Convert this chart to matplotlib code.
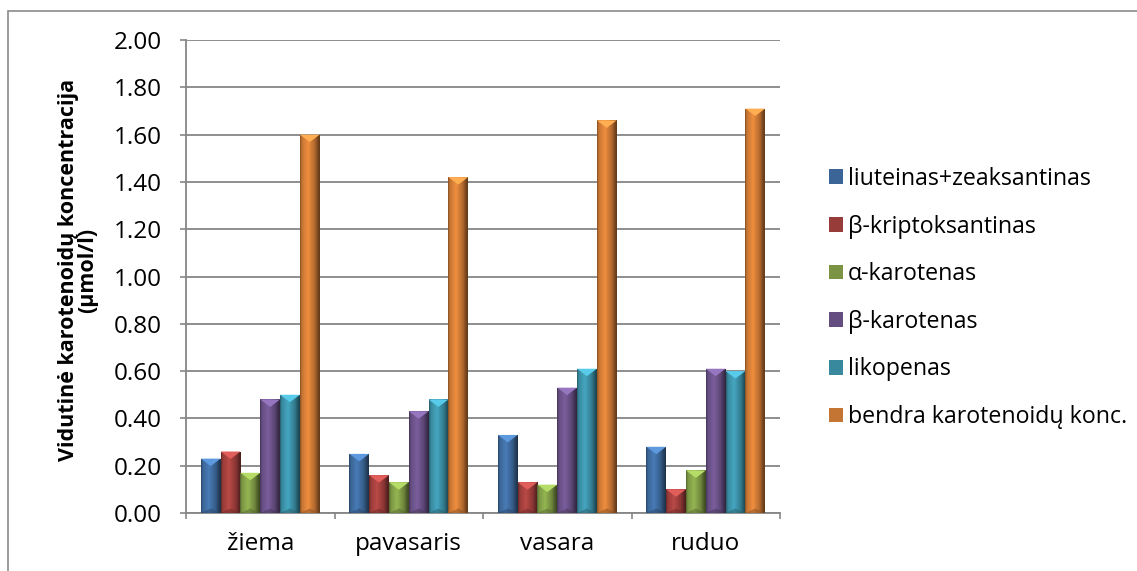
import numpy as np
import matplotlib
matplotlib.use("Agg")
import matplotlib.pyplot as plt
from matplotlib.patches import Rectangle, Polygon
from matplotlib.colors import to_rgb

plt.rcParams["font.family"] = ["Open Sans", "DejaVu Sans"]

seasons = ["žiema", "pavasaris", "vasara", "ruduo"]
series = [
    "liuteinas+zeaksantinas",
    "β-kriptoksantinas",
    "α-karotenas",
    "β-karotenas",
    "likopenas",
    "bendra karotenoidų konc.",
]
lutein = [0.23, 0.25, 0.33, 0.28]
b_crypto = [0.26, 0.16, 0.13, 0.10]
a_carotene = [0.17, 0.13, 0.12, 0.18]
b_carotene = [0.48, 0.43, 0.53, 0.61]
lycopene = [0.50, 0.48, 0.61, 0.60]
total = [1.60, 1.42, 1.66, 1.71]
values = [lutein, b_crypto, a_carotene, b_carotene, lycopene, total]
colors = ["#4A7EBB", "#BE4B48", "#98B954", "#7D60A0", "#46AAC5", "#F59140"]

W, H = 1137, 571
fig = plt.figure(figsize=(W / 100, H / 100), dpi=100)
ax = fig.add_axes([186 / W, 1 - 513 / H, (780 - 186) / W, (513 - 40) / H])

n = len(series)
gap = 1.5
bw = 1.0 / (n + gap)
x = np.arange(len(seasons))

# horizontal shading profile used for the bevelled bar look
prof_x = np.array([0.0, 0.08, 0.4, 0.75, 0.9, 1.0])
prof_f = np.array([0.55, 0.8, 0.98, 0.72, 0.5, 0.4])
px = np.linspace(0, 1, 40)
shade = np.interp(px, prof_x, prof_f)

bars_all = []
for i, (name, vals, col) in enumerate(zip(series, values, colors)):
    pos = x - 0.5 + gap / 2 * bw + (i + 0.5) * bw
    bars = ax.bar(pos, vals, bw, color=col, label=name, zorder=3,
                  edgecolor="none")
    bars_all.append((bars, col))

ax.set_xlim(-0.5, len(seasons) - 0.5)
ax.set_ylim(0, 2.0)

# pixels per data unit, used to size the chevron on each bar top
ppx = (780 - 186) / len(seasons)
ppy = (513 - 40) / 2.0

for bars, col in bars_all:
    base = np.array(to_rgb(col))
    img = np.clip(shade[None, :, None] * base[None, None, :], 0, 1)
    for b in bars:
        x0, w, h = b.get_x(), b.get_width(), b.get_height()
        im = ax.imshow(img, extent=[x0, x0 + w, 0, h], aspect="auto",
                       zorder=4, interpolation="bilinear")
        im.set_clip_path(b)
        d = (w * ppx / 2) / ppy * 0.75
        light = np.clip(base * 1.15 + 0.03, 0, 1)
        ax.add_patch(Polygon([[x0, h], [x0 + w, h], [x0 + w / 2, h - d]],
                             closed=True, facecolor=light, edgecolor="none",
                             zorder=5))
        dark = base * 0.55
        ax.add_patch(Polygon([[x0, 0], [x0 + w, 0], [x0 + w / 2, d * 0.6]],
                             closed=True, facecolor=dark, edgecolor="none",
                             alpha=0.5, zorder=5))

ax.set_xlim(-0.5, len(seasons) - 0.5)
ax.set_ylim(0, 2.0)

grid_c = "#868686"
ax.set_yticks(np.arange(0, 2.01, 0.2))
ax.set_yticklabels([f"{v:.2f}" for v in np.arange(0, 2.01, 0.2)])
ax.yaxis.grid(True, color=grid_c, linewidth=1.3, zorder=0)
ax.set_axisbelow(True)
ax.set_xticks(x)
ax.set_xticklabels(seasons)
ax.set_xticks(np.arange(-0.5, len(seasons), 1.0), minor=True)
ax.tick_params(axis="x", which="major", length=0, pad=14, labelsize=17.5)
ax.tick_params(axis="x", which="minor", length=4.5, color=grid_c, width=1.2,
               direction="out")
ax.tick_params(axis="y", length=4.5, color=grid_c, width=1.2, pad=13,
               labelsize=17.5)
for s in ["top", "right"]:
    ax.spines[s].set_visible(False)
for s in ["left", "bottom"]:
    ax.spines[s].set_color(grid_c)
    ax.spines[s].set_linewidth(1.3)

ax.set_ylabel("Vidutinė karotenoidų koncentracija\n(µmol/l)",
              fontsize=15.5, fontweight="bold", linespacing=0.9)
ax.yaxis.set_label_coords(98 / W, 1 - 270 / H, transform=fig.transFigure)

# square legend keys with the same shaded fill
leg = ax.legend(loc="center left", bbox_to_anchor=(820 / W, 1 - 298 / H),
                bbox_transform=fig.transFigure, frameon=False, fontsize=16.7,
                handlelength=0.6, handleheight=0.6, handletextpad=0.2,
                labelspacing=1.02, borderaxespad=0)
for hnd, col in zip(leg.legend_handles, colors):
    hnd.set_facecolor(np.array(to_rgb(col)) * 0.8)

fig.patches.append(Rectangle((8 / W, -0.1), 1.2, 1.1 - 11 / H,
                             transform=fig.transFigure, fill=False,
                             edgecolor="#8a8a8a", linewidth=1.2))

fig.savefig("out.png", dpi=100)
